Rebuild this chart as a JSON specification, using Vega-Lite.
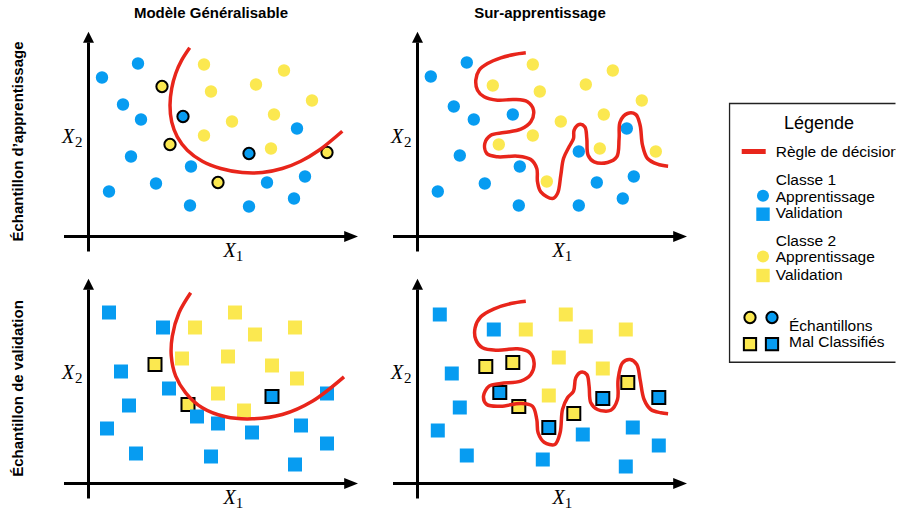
{
"$schema": "https://vega.github.io/schema/vega-lite/v6.json",
"padding": {"left": 9.5, "top": 5.5, "right": 0, "bottom": 0},
"autosize": {"type": "pad"},
"background": "white",
"config": {"view": {"stroke": null}, "font": "Liberation Sans"},
"datasets": {
"pts": [
{"mo":"g","sa":"a","k":"f"},{"mo":"o","sa":"a","k":"f"},{"mo":"g","sa":"v","k":"f"},{"mo":"o","sa":"v","k":"f"},
{"mo":"g","sa":"a","k":"p","c":1,"m":0,"x":13.5,"y":159},{"mo":"g","sa":"a","k":"p","c":1,"m":0,"x":49.5,"y":173},{"mo":"g","sa":"a","k":"p","c":1,"m":0,"x":34.5,"y":132},{"mo":"g","sa":"a","k":"p","c":1,"m":0,"x":52.5,"y":117},{"mo":"g","sa":"a","k":"p","c":1,"m":0,"x":42.5,"y":80},{"mo":"g","sa":"a","k":"p","c":1,"m":0,"x":20.5,"y":45},{"mo":"g","sa":"a","k":"p","c":1,"m":0,"x":67.5,"y":53},{"mo":"g","sa":"a","k":"p","c":1,"m":0,"x":102.5,"y":70},{"mo":"g","sa":"a","k":"p","c":1,"m":0,"x":101.5,"y":31},{"mo":"g","sa":"a","k":"p","c":1,"m":0,"x":160.5,"y":30},{"mo":"g","sa":"a","k":"p","c":1,"m":0,"x":178.5,"y":54},{"mo":"g","sa":"a","k":"p","c":1,"m":0,"x":205.5,"y":38},{"mo":"g","sa":"a","k":"p","c":1,"m":0,"x":216.5,"y":60},{"mo":"g","sa":"a","k":"p","c":1,"m":0,"x":208.5,"y":108},
{"mo":"g","sa":"a","k":"p","c":1,"m":1,"x":94.5,"y":120},{"mo":"g","sa":"a","k":"p","c":1,"m":1,"x":160.5,"y":83},
{"mo":"g","sa":"a","k":"p","c":2,"m":0,"x":115.5,"y":172},{"mo":"g","sa":"a","k":"p","c":2,"m":0,"x":195.5,"y":166},{"mo":"g","sa":"a","k":"p","c":2,"m":0,"x":122.5,"y":145},{"mo":"g","sa":"a","k":"p","c":2,"m":0,"x":167.5,"y":152},{"mo":"g","sa":"a","k":"p","c":2,"m":0,"x":223.5,"y":136},{"mo":"g","sa":"a","k":"p","c":2,"m":0,"x":185.5,"y":122},{"mo":"g","sa":"a","k":"p","c":2,"m":0,"x":143.5,"y":115},{"mo":"g","sa":"a","k":"p","c":2,"m":0,"x":115.5,"y":101},{"mo":"g","sa":"a","k":"p","c":2,"m":0,"x":182.5,"y":88},
{"mo":"g","sa":"a","k":"p","c":2,"m":1,"x":73.5,"y":150},{"mo":"g","sa":"a","k":"p","c":2,"m":1,"x":81.5,"y":92},{"mo":"g","sa":"a","k":"p","c":2,"m":1,"x":129.5,"y":54},{"mo":"g","sa":"a","k":"p","c":2,"m":1,"x":238.5,"y":84},
{"mo":"o","sa":"a","k":"p","c":1,"m":0,"x":13.3,"y":160},{"mo":"o","sa":"a","k":"p","c":1,"m":0,"x":49.3,"y":174},{"mo":"o","sa":"a","k":"p","c":1,"m":0,"x":36.3,"y":130},{"mo":"o","sa":"a","k":"p","c":1,"m":0,"x":56.3,"y":117},{"mo":"o","sa":"a","k":"p","c":1,"m":0,"x":95.3,"y":122},{"mo":"o","sa":"a","k":"p","c":1,"m":0,"x":42.3,"y":81},{"mo":"o","sa":"a","k":"p","c":1,"m":0,"x":20.3,"y":45},{"mo":"o","sa":"a","k":"p","c":1,"m":0,"x":67.3,"y":53},{"mo":"o","sa":"a","k":"p","c":1,"m":0,"x":102.3,"y":70},{"mo":"o","sa":"a","k":"p","c":1,"m":0,"x":101.3,"y":31},{"mo":"o","sa":"a","k":"p","c":1,"m":0,"x":161.3,"y":31},{"mo":"o","sa":"a","k":"p","c":1,"m":0,"x":161.3,"y":85},{"mo":"o","sa":"a","k":"p","c":1,"m":0,"x":179.3,"y":54},{"mo":"o","sa":"a","k":"p","c":1,"m":0,"x":205.3,"y":38},{"mo":"o","sa":"a","k":"p","c":1,"m":0,"x":216.3,"y":60},{"mo":"o","sa":"a","k":"p","c":1,"m":0,"x":209.3,"y":108},
{"mo":"o","sa":"a","k":"p","c":2,"m":0,"x":115.3,"y":172},{"mo":"o","sa":"a","k":"p","c":2,"m":0,"x":195.3,"y":166},{"mo":"o","sa":"a","k":"p","c":2,"m":0,"x":75.3,"y":151},{"mo":"o","sa":"a","k":"p","c":2,"m":0,"x":122.3,"y":145},{"mo":"o","sa":"a","k":"p","c":2,"m":0,"x":168.3,"y":152},{"mo":"o","sa":"a","k":"p","c":2,"m":0,"x":224.3,"y":136},{"mo":"o","sa":"a","k":"p","c":2,"m":0,"x":186.3,"y":122},{"mo":"o","sa":"a","k":"p","c":2,"m":0,"x":143.3,"y":115},{"mo":"o","sa":"a","k":"p","c":2,"m":0,"x":115.3,"y":101},{"mo":"o","sa":"a","k":"p","c":2,"m":0,"x":81.3,"y":92},{"mo":"o","sa":"a","k":"p","c":2,"m":0,"x":182.3,"y":88},{"mo":"o","sa":"a","k":"p","c":2,"m":0,"x":238.3,"y":85},{"mo":"o","sa":"a","k":"p","c":2,"m":0,"x":129.3,"y":55},
{"mo":"g","sa":"v","k":"p","c":1,"m":0,"x":20.5,"y":171},{"mo":"g","sa":"v","k":"p","c":1,"m":0,"x":74.5,"y":156},{"mo":"g","sa":"v","k":"p","c":1,"m":0,"x":32.5,"y":112},{"mo":"g","sa":"v","k":"p","c":1,"m":0,"x":80.5,"y":95},{"mo":"g","sa":"v","k":"p","c":1,"m":0,"x":40.5,"y":78},{"mo":"g","sa":"v","k":"p","c":1,"m":0,"x":18.5,"y":55},{"mo":"g","sa":"v","k":"p","c":1,"m":0,"x":47.5,"y":30},{"mo":"g","sa":"v","k":"p","c":1,"m":0,"x":108.5,"y":67},{"mo":"g","sa":"v","k":"p","c":1,"m":0,"x":129.5,"y":60},{"mo":"g","sa":"v","k":"p","c":1,"m":0,"x":163.5,"y":51},{"mo":"g","sa":"v","k":"p","c":1,"m":0,"x":212.5,"y":58},{"mo":"g","sa":"v","k":"p","c":1,"m":0,"x":238.5,"y":90},{"mo":"g","sa":"v","k":"p","c":1,"m":0,"x":238.5,"y":40},{"mo":"g","sa":"v","k":"p","c":1,"m":0,"x":122.5,"y":27},{"mo":"g","sa":"v","k":"p","c":1,"m":0,"x":206.5,"y":19},
{"mo":"g","sa":"v","k":"p","c":1,"m":1,"x":183.5,"y":87},
{"mo":"g","sa":"v","k":"p","c":2,"m":0,"x":146.5,"y":171},{"mo":"g","sa":"v","k":"p","c":2,"m":0,"x":106.5,"y":156},{"mo":"g","sa":"v","k":"p","c":2,"m":0,"x":166.5,"y":149},{"mo":"g","sa":"v","k":"p","c":2,"m":0,"x":206.5,"y":156},{"mo":"g","sa":"v","k":"p","c":2,"m":0,"x":93.5,"y":125},{"mo":"g","sa":"v","k":"p","c":2,"m":0,"x":139.5,"y":127},{"mo":"g","sa":"v","k":"p","c":2,"m":0,"x":183.5,"y":118},{"mo":"g","sa":"v","k":"p","c":2,"m":0,"x":208.5,"y":105},{"mo":"g","sa":"v","k":"p","c":2,"m":0,"x":129.5,"y":90},{"mo":"g","sa":"v","k":"p","c":2,"m":0,"x":155.5,"y":73},
{"mo":"g","sa":"v","k":"p","c":2,"m":1,"x":66.5,"y":119},{"mo":"g","sa":"v","k":"p","c":2,"m":1,"x":99.5,"y":79},
{"mo":"o","sa":"v","k":"p","c":1,"m":0,"x":22.3,"y":169},{"mo":"o","sa":"v","k":"p","c":1,"m":0,"x":76.3,"y":154},{"mo":"o","sa":"v","k":"p","c":1,"m":0,"x":34.3,"y":110},{"mo":"o","sa":"v","k":"p","c":1,"m":0,"x":42.3,"y":76},{"mo":"o","sa":"v","k":"p","c":1,"m":0,"x":20.3,"y":53},{"mo":"o","sa":"v","k":"p","c":1,"m":0,"x":49.3,"y":28},{"mo":"o","sa":"v","k":"p","c":1,"m":0,"x":165.3,"y":49},{"mo":"o","sa":"v","k":"p","c":1,"m":0,"x":215.3,"y":56},{"mo":"o","sa":"v","k":"p","c":1,"m":0,"x":241.3,"y":38},{"mo":"o","sa":"v","k":"p","c":1,"m":0,"x":125.3,"y":24},{"mo":"o","sa":"v","k":"p","c":1,"m":0,"x":208.3,"y":17},
{"mo":"o","sa":"v","k":"p","c":1,"m":1,"x":82.3,"y":91},{"mo":"o","sa":"v","k":"p","c":1,"m":1,"x":131.3,"y":56},{"mo":"o","sa":"v","k":"p","c":1,"m":1,"x":185.3,"y":85},{"mo":"o","sa":"v","k":"p","c":1,"m":1,"x":241.3,"y":86},
{"mo":"o","sa":"v","k":"p","c":2,"m":0,"x":148.3,"y":169},{"mo":"o","sa":"v","k":"p","c":2,"m":0,"x":108.3,"y":154},{"mo":"o","sa":"v","k":"p","c":2,"m":0,"x":168.3,"y":147},{"mo":"o","sa":"v","k":"p","c":2,"m":0,"x":208.3,"y":154},{"mo":"o","sa":"v","k":"p","c":2,"m":0,"x":141.3,"y":126},{"mo":"o","sa":"v","k":"p","c":2,"m":0,"x":185.3,"y":115},{"mo":"o","sa":"v","k":"p","c":2,"m":0,"x":131.3,"y":88},
{"mo":"o","sa":"v","k":"p","c":2,"m":1,"x":68.3,"y":117},{"mo":"o","sa":"v","k":"p","c":2,"m":1,"x":95.3,"y":121},{"mo":"o","sa":"v","k":"p","c":2,"m":1,"x":101.3,"y":77},{"mo":"o","sa":"v","k":"p","c":2,"m":1,"x":156.3,"y":70},{"mo":"o","sa":"v","k":"p","c":2,"m":1,"x":210.3,"y":101},
{"mo":"g","sa":"a","k":"c","i":0,"x":101.2,"y":188.7},{"mo":"g","sa":"a","k":"c","i":1,"x":93.2,"y":176.3},{"mo":"g","sa":"a","k":"c","i":2,"x":87.2,"y":163},{"mo":"g","sa":"a","k":"c","i":3,"x":83.2,"y":148},{"mo":"g","sa":"a","k":"c","i":4,"x":81.5,"y":131.3},{"mo":"g","sa":"a","k":"c","i":5,"x":83.2,"y":114.7},{"mo":"g","sa":"a","k":"c","i":6,"x":88.8,"y":99.7},{"mo":"g","sa":"a","k":"c","i":7,"x":98.8,"y":86.3},{"mo":"g","sa":"a","k":"c","i":8,"x":113.8,"y":75.3},{"mo":"g","sa":"a","k":"c","i":9,"x":132.2,"y":68},{"mo":"g","sa":"a","k":"c","i":10,"x":153.8,"y":64},{"mo":"g","sa":"a","k":"c","i":11,"x":173.8,"y":64},{"mo":"g","sa":"a","k":"c","i":12,"x":193.8,"y":68},{"mo":"g","sa":"a","k":"c","i":13,"x":212.2,"y":75.3},{"mo":"g","sa":"a","k":"c","i":14,"x":230.5,"y":86.3},{"mo":"g","sa":"a","k":"c","i":15,"x":253.8,"y":105.3},
{"mo":"g","sa":"v","k":"c","i":0,"x":102.2,"y":190.7},{"mo":"g","sa":"v","k":"c","i":1,"x":90.5,"y":170.7},{"mo":"g","sa":"v","k":"c","i":2,"x":83.8,"y":147.3},{"mo":"g","sa":"v","k":"c","i":3,"x":82.8,"y":127.3},{"mo":"g","sa":"v","k":"c","i":4,"x":87.2,"y":107.3},{"mo":"g","sa":"v","k":"c","i":5,"x":97.2,"y":90.7},{"mo":"g","sa":"v","k":"c","i":6,"x":113.8,"y":75.7},{"mo":"g","sa":"v","k":"c","i":7,"x":137.2,"y":66.7},{"mo":"g","sa":"v","k":"c","i":8,"x":163.8,"y":64.7},{"mo":"g","sa":"v","k":"c","i":9,"x":193.8,"y":69},{"mo":"g","sa":"v","k":"c","i":10,"x":223.8,"y":82.3},{"mo":"g","sa":"v","k":"c","i":11,"x":255.5,"y":106.7},
{"mo":"o","sa":"a","k":"c","i":0,"x":108.3,"y":183.7},{"mo":"o","sa":"a","k":"c","i":1,"x":96.6,"y":182},{"mo":"o","sa":"a","k":"c","i":2,"x":83.3,"y":178.7},{"mo":"o","sa":"a","k":"c","i":3,"x":70,"y":173},{"mo":"o","sa":"a","k":"c","i":4,"x":61.6,"y":166.3},{"mo":"o","sa":"a","k":"c","i":5,"x":58.3,"y":156.3},{"mo":"o","sa":"a","k":"c","i":6,"x":60,"y":146.3},{"mo":"o","sa":"a","k":"c","i":7,"x":66.6,"y":139.7},{"mo":"o","sa":"a","k":"c","i":8,"x":80,"y":136.3},{"mo":"o","sa":"a","k":"c","i":9,"x":96.6,"y":137},{"mo":"o","sa":"a","k":"c","i":10,"x":110,"y":134.7},{"mo":"o","sa":"a","k":"c","i":11,"x":116,"y":126.3},{"mo":"o","sa":"a","k":"c","i":12,"x":113.3,"y":114.7},{"mo":"o","sa":"a","k":"c","i":13,"x":103.3,"y":107.3},{"mo":"o","sa":"a","k":"c","i":14,"x":86.6,"y":104},{"mo":"o","sa":"a","k":"c","i":15,"x":73.3,"y":101.3},{"mo":"o","sa":"a","k":"c","i":16,"x":67.3,"y":93},{"mo":"o","sa":"a","k":"c","i":17,"x":69.3,"y":83},{"mo":"o","sa":"a","k":"c","i":18,"x":80,"y":79.7},{"mo":"o","sa":"a","k":"c","i":19,"x":100,"y":80.3},{"mo":"o","sa":"a","k":"c","i":20,"x":113.3,"y":77},{"mo":"o","sa":"a","k":"c","i":21,"x":119.3,"y":68},{"mo":"o","sa":"a","k":"c","i":22,"x":120,"y":54.7},{"mo":"o","sa":"a","k":"c","i":23,"x":123.3,"y":44.7},{"mo":"o","sa":"a","k":"c","i":24,"x":135,"y":38},{"mo":"o","sa":"a","k":"c","i":25,"x":140,"y":43},{"mo":"o","sa":"a","k":"c","i":26,"x":143.3,"y":61.3},{"mo":"o","sa":"a","k":"c","i":27,"x":146,"y":78},{"mo":"o","sa":"a","k":"c","i":28,"x":151.6,"y":89.7},{"mo":"o","sa":"a","k":"c","i":29,"x":156,"y":98},{"mo":"o","sa":"a","k":"c","i":30,"x":156.6,"y":106.3},{"mo":"o","sa":"a","k":"c","i":31,"x":161.6,"y":112},{"mo":"o","sa":"a","k":"c","i":32,"x":167.3,"y":109.7},{"mo":"o","sa":"a","k":"c","i":33,"x":169.3,"y":98},{"mo":"o","sa":"a","k":"c","i":34,"x":170.6,"y":81.3},{"mo":"o","sa":"a","k":"c","i":35,"x":176.6,"y":74.7},{"mo":"o","sa":"a","k":"c","i":36,"x":190,"y":74},{"mo":"o","sa":"a","k":"c","i":37,"x":199.3,"y":79.7},{"mo":"o","sa":"a","k":"c","i":38,"x":201.6,"y":98},{"mo":"o","sa":"a","k":"c","i":39,"x":202.6,"y":114.7},{"mo":"o","sa":"a","k":"c","i":40,"x":210,"y":123},{"mo":"o","sa":"a","k":"c","i":41,"x":218.3,"y":122},{"mo":"o","sa":"a","k":"c","i":42,"x":222.6,"y":111.3},{"mo":"o","sa":"a","k":"c","i":43,"x":225,"y":91.3},{"mo":"o","sa":"a","k":"c","i":44,"x":230,"y":78},{"mo":"o","sa":"a","k":"c","i":45,"x":240,"y":72.3},{"mo":"o","sa":"a","k":"c","i":46,"x":250.6,"y":70.3},
{"mo":"o","sa":"v","k":"c","i":0,"x":108.3,"y":182.3},{"mo":"o","sa":"v","k":"c","i":1,"x":93.3,"y":180},{"mo":"o","sa":"v","k":"c","i":2,"x":76.6,"y":174.7},{"mo":"o","sa":"v","k":"c","i":3,"x":63.3,"y":166.7},{"mo":"o","sa":"v","k":"c","i":4,"x":57.6,"y":155.7},{"mo":"o","sa":"v","k":"c","i":5,"x":58.3,"y":144},{"mo":"o","sa":"v","k":"c","i":6,"x":65,"y":135.7},{"mo":"o","sa":"v","k":"c","i":7,"x":80,"y":133.3},{"mo":"o","sa":"v","k":"c","i":8,"x":100,"y":134.7},{"mo":"o","sa":"v","k":"c","i":9,"x":111.6,"y":131.3},{"mo":"o","sa":"v","k":"c","i":10,"x":116.6,"y":120.7},{"mo":"o","sa":"v","k":"c","i":11,"x":113.3,"y":109},{"mo":"o","sa":"v","k":"c","i":12,"x":103.3,"y":102.3},{"mo":"o","sa":"v","k":"c","i":13,"x":83.3,"y":100},{"mo":"o","sa":"v","k":"c","i":14,"x":71.6,"y":97.3},{"mo":"o","sa":"v","k":"c","i":15,"x":66,"y":87.3},{"mo":"o","sa":"v","k":"c","i":16,"x":69.3,"y":79},{"mo":"o","sa":"v","k":"c","i":17,"x":83.3,"y":77.3},{"mo":"o","sa":"v","k":"c","i":18,"x":103.3,"y":80},{"mo":"o","sa":"v","k":"c","i":19,"x":115,"y":77.3},{"mo":"o","sa":"v","k":"c","i":20,"x":119.3,"y":64},{"mo":"o","sa":"v","k":"c","i":21,"x":120.6,"y":50.7},{"mo":"o","sa":"v","k":"c","i":22,"x":126.6,"y":41.3},{"mo":"o","sa":"v","k":"c","i":23,"x":137.3,"y":39},{"mo":"o","sa":"v","k":"c","i":24,"x":142.6,"y":50.7},{"mo":"o","sa":"v","k":"c","i":25,"x":145,"y":74},{"mo":"o","sa":"v","k":"c","i":26,"x":150,"y":85.7},{"mo":"o","sa":"v","k":"c","i":27,"x":156,"y":92.3},{"mo":"o","sa":"v","k":"c","i":28,"x":158.3,"y":105.7},{"mo":"o","sa":"v","k":"c","i":29,"x":163.3,"y":111.3},{"mo":"o","sa":"v","k":"c","i":30,"x":169.3,"y":109},{"mo":"o","sa":"v","k":"c","i":31,"x":171.6,"y":97.3},{"mo":"o","sa":"v","k":"c","i":32,"x":173.3,"y":80.7},{"mo":"o","sa":"v","k":"c","i":33,"x":180,"y":74},{"mo":"o","sa":"v","k":"c","i":34,"x":193.3,"y":73.3},{"mo":"o","sa":"v","k":"c","i":35,"x":200,"y":84},{"mo":"o","sa":"v","k":"c","i":36,"x":200.6,"y":104},{"mo":"o","sa":"v","k":"c","i":37,"x":205,"y":120.7},{"mo":"o","sa":"v","k":"c","i":38,"x":212.6,"y":124},{"mo":"o","sa":"v","k":"c","i":39,"x":219.3,"y":119},{"mo":"o","sa":"v","k":"c","i":40,"x":222.6,"y":104},{"mo":"o","sa":"v","k":"c","i":41,"x":226.6,"y":84},{"mo":"o","sa":"v","k":"c","i":42,"x":233.3,"y":74},{"mo":"o","sa":"v","k":"c","i":43,"x":243.3,"y":70.7},{"mo":"o","sa":"v","k":"c","i":44,"x":250.6,"y":69.7}
],
"leg": [
{"item":"title","label":"Légende"},{"item":"rule","label":"Règle de décision"},{"item":"c1","label":"Classe 1"},{"item":"c1a","label":"Apprentissage"},{"item":"c1v","label":"Validation"},{"item":"c2","label":"Classe 2"},{"item":"c2a","label":"Apprentissage"},{"item":"c2v","label":"Validation"},{"item":"e","label":"Échantillons"},{"item":"mc","label":"Mal Classifiés"}
]
},
"spacing": 41,
"hconcat": [
{
"data": {"name": "pts"},
"facet": {
"row": {"field": "sa", "type": "nominal", "sort": ["a", "v"], "title": null,
"header": {"labelExpr": "datum.value == 'a' ? 'Échantillon d’apprentissage' : 'Échantillon de validation'", "labelFont": "Liberation Sans", "labelFontSize": 15, "labelFontWeight": "bold", "labelColor": "black", "labelAngle": -90, "labelPadding": 29}},
"column": {"field": "mo", "type": "nominal", "sort": ["g", "o"], "title": null,
"header": {"labelExpr": "datum.value == 'g' ? '\u00a0\u00a0\u00a0\u00a0\u00a0\u00a0\u00a0\u00a0\u00a0Modèle Généralisable' : '\u00a0\u00a0\u00a0Sur-apprentissage'", "labelFont": "Liberation Sans", "labelFontSize": 15, "labelFontWeight": "bold", "labelColor": "black", "labelPadding": 10}}
},
"spacing": {"row": 13, "column": 32},
"spec": {
"width": 295, "height": 222,
"layer": [
{"transform": [{"filter": "datum.k == 'p' && datum.m == 1 && datum.sa == 'a'"}],
"mark": {"type": "circle", "size": 127, "opacity": 1, "stroke": "black", "strokeWidth": 2},
"encoding": {"x": {"field": "x", "type": "quantitative", "scale": {"domain": [-25, 270], "nice": false, "zero": false}, "axis": null},
"y": {"field": "y", "type": "quantitative", "scale": {"domain": [-16, 206], "nice": false, "zero": false}, "axis": null},
"color": {"field": "c", "type": "nominal", "scale": {"domain": [1, 2], "range": ["#079cf1", "#fbe850"]}, "legend": null}}},
{"transform": [{"filter": "datum.k == 'p' && datum.m == 1 && datum.sa == 'v'"}],
"mark": {"type": "square", "size": 169, "opacity": 1, "stroke": "black", "strokeWidth": 2},
"encoding": {"x": {"field": "x", "type": "quantitative", "scale": {"domain": [-25, 270], "nice": false, "zero": false}, "axis": null},
"y": {"field": "y", "type": "quantitative", "scale": {"domain": [-16, 206], "nice": false, "zero": false}, "axis": null},
"color": {"field": "c", "type": "nominal", "scale": {"domain": [1, 2], "range": ["#079cf1", "#fbe850"]}, "legend": null}}},
{"transform": [{"filter": "datum.k == 'p' && datum.m == 0 && datum.sa == 'a'"}],
"mark": {"type": "circle", "size": 154, "opacity": 1},
"encoding": {"x": {"field": "x", "type": "quantitative", "scale": {"domain": [-25, 270], "nice": false, "zero": false}, "axis": null},
"y": {"field": "y", "type": "quantitative", "scale": {"domain": [-16, 206], "nice": false, "zero": false}, "axis": null},
"color": {"field": "c", "type": "nominal", "scale": {"domain": [1, 2], "range": ["#079cf1", "#fbe850"]}, "legend": null}}},
{"transform": [{"filter": "datum.k == 'p' && datum.m == 0 && datum.sa == 'v'"}],
"mark": {"type": "square", "size": 196, "opacity": 1},
"encoding": {"x": {"field": "x", "type": "quantitative", "scale": {"domain": [-25, 270], "nice": false, "zero": false}, "axis": null},
"y": {"field": "y", "type": "quantitative", "scale": {"domain": [-16, 206], "nice": false, "zero": false}, "axis": null},
"color": {"field": "c", "type": "nominal", "scale": {"domain": [1, 2], "range": ["#079cf1", "#fbe850"]}, "legend": null}}},
{"transform": [{"filter": "datum.k == 'c'"}],
"mark": {"type": "line", "color": "#e8251b", "strokeWidth": 3.5, "interpolate": "catmull-rom"},
"encoding": {"x": {"field": "x", "type": "quantitative", "scale": {"domain": [-25, 270], "nice": false, "zero": false}, "axis": null},
"y": {"field": "y", "type": "quantitative", "scale": {"domain": [-16, 206], "nice": false, "zero": false}, "axis": null},
"order": {"field": "i", "type": "quantitative"}}},
{"transform": [{"filter": "datum.k == 'f'"}],
"mark": {"type": "rule", "color": "black", "strokeWidth": 3},
"encoding": {"x": {"datum": -24.5, "type": "quantitative"}, "x2": {"datum": 257}, "y": {"datum": 0, "type": "quantitative"}}},
{"transform": [{"filter": "datum.k == 'f'"}],
"mark": {"type": "rule", "color": "black", "strokeWidth": 3},
"encoding": {"x": {"datum": 0, "type": "quantitative"}, "y": {"datum": -15, "type": "quantitative"}, "y2": {"datum": 194}}},
{"transform": [{"filter": "datum.k == 'f'"}],
"mark": {"type": "point", "shape": "M-1.15,-0.92L1.15,0L-1.15,0.92Z", "size": 144, "filled": true, "color": "black", "opacity": 1},
"encoding": {"x": {"datum": 262.6, "type": "quantitative"}, "y": {"datum": 0, "type": "quantitative"}}},
{"transform": [{"filter": "datum.k == 'f'"}],
"mark": {"type": "point", "shape": "M-0.92,0.92L0,-0.92L0.92,0.92Z", "size": 144, "filled": true, "color": "black", "opacity": 1},
"encoding": {"x": {"datum": 0, "type": "quantitative"}, "y": {"datum": 199.2, "type": "quantitative"}}},
{"transform": [{"filter": "datum.k == 'f'"}],
"mark": {"type": "text", "text": "X", "font": "Liberation Serif", "fontStyle": "italic", "fontSize": 20, "align": "center", "baseline": "alphabetic", "color": "black"},
"encoding": {"x": {"datum": 141, "type": "quantitative"}, "y": {"datum": -20, "type": "quantitative"}}},
{"transform": [{"filter": "datum.k == 'f'"}],
"mark": {"type": "text", "text": "1", "font": "Liberation Serif", "fontSize": 15, "align": "center", "baseline": "alphabetic", "color": "black"},
"encoding": {"x": {"datum": 151, "type": "quantitative"}, "y": {"datum": -24, "type": "quantitative"}}},
{"transform": [{"filter": "datum.k == 'f' && datum.sa == 'a'"}],
"mark": {"type": "text", "text": "X", "font": "Liberation Serif", "fontStyle": "italic", "fontSize": 20, "align": "center", "baseline": "alphabetic", "color": "black"},
"encoding": {"x": {"datum": -20.3, "type": "quantitative"}, "y": {"datum": 93.5, "type": "quantitative"}}},
{"transform": [{"filter": "datum.k == 'f' && datum.sa == 'a'"}],
"mark": {"type": "text", "text": "2", "font": "Liberation Serif", "fontSize": 15, "align": "center", "baseline": "alphabetic", "color": "black"},
"encoding": {"x": {"datum": -9.8, "type": "quantitative"}, "y": {"datum": 89.5, "type": "quantitative"}}},
{"transform": [{"filter": "datum.k == 'f' && datum.sa == 'v'"}],
"mark": {"type": "text", "text": "X", "font": "Liberation Serif", "fontStyle": "italic", "fontSize": 20, "align": "center", "baseline": "alphabetic", "color": "black"},
"encoding": {"x": {"datum": -20.3, "type": "quantitative"}, "y": {"datum": 105, "type": "quantitative"}}},
{"transform": [{"filter": "datum.k == 'f' && datum.sa == 'v'"}],
"mark": {"type": "text", "text": "2", "font": "Liberation Serif", "fontSize": 15, "align": "center", "baseline": "alphabetic", "color": "black"},
"encoding": {"x": {"datum": -9.8, "type": "quantitative"}, "y": {"datum": 101, "type": "quantitative"}}}
]
}
},
{
"data": {"name": "leg"},
"width": 167, "height": 340,
"layer": [
{"transform": [{"filter": "datum.item == 'title'"}],
"mark": {"type": "rect", "fill": "white", "stroke": "#222222", "strokeWidth": 1.4, "clip": true},
"encoding": {"x": {"datum": 1, "type": "quantitative", "scale": {"domain": [0, 167], "nice": false, "zero": false}, "axis": null}, "x2": {"datum": 400},
"y": {"datum": 73, "type": "quantitative", "scale": {"domain": [0, 340], "reverse": true, "nice": false, "zero": false}, "axis": null}, "y2": {"datum": 331.7}}},
{"transform": [{"filter": "datum.item == 'title'"}],
"mark": {"type": "text", "fontSize": 18, "align": "center", "baseline": "alphabetic", "color": "black"},
"encoding": {"text": {"field": "label"}, "x": {"datum": 90.5, "type": "quantitative"}, "y": {"datum": 98.3, "type": "quantitative"}}},
{"transform": [{"filter": "datum.item == 'rule'"}],
"mark": {"type": "text", "fontSize": 15.5, "align": "left", "baseline": "alphabetic", "color": "black", "clip": true},
"encoding": {"text": {"field": "label"}, "x": {"datum": 47.2, "type": "quantitative"}, "y": {"datum": 126, "type": "quantitative"}}},
{"transform": [{"filter": "datum.item == 'c1'"}],
"mark": {"type": "text", "fontSize": 15.5, "align": "left", "baseline": "alphabetic", "color": "black"},
"encoding": {"text": {"field": "label"}, "x": {"datum": 47.2, "type": "quantitative"}, "y": {"datum": 154.3, "type": "quantitative"}}},
{"transform": [{"filter": "datum.item == 'c1a'"}],
"mark": {"type": "text", "fontSize": 15.5, "align": "left", "baseline": "alphabetic", "color": "black"},
"encoding": {"text": {"field": "label"}, "x": {"datum": 47.2, "type": "quantitative"}, "y": {"datum": 171, "type": "quantitative"}}},
{"transform": [{"filter": "datum.item == 'c1v'"}],
"mark": {"type": "text", "fontSize": 15.5, "align": "left", "baseline": "alphabetic", "color": "black"},
"encoding": {"text": {"field": "label"}, "x": {"datum": 47.2, "type": "quantitative"}, "y": {"datum": 187.7, "type": "quantitative"}}},
{"transform": [{"filter": "datum.item == 'c2'"}],
"mark": {"type": "text", "fontSize": 15.5, "align": "left", "baseline": "alphabetic", "color": "black"},
"encoding": {"text": {"field": "label"}, "x": {"datum": 47.2, "type": "quantitative"}, "y": {"datum": 215, "type": "quantitative"}}},
{"transform": [{"filter": "datum.item == 'c2a'"}],
"mark": {"type": "text", "fontSize": 15.5, "align": "left", "baseline": "alphabetic", "color": "black"},
"encoding": {"text": {"field": "label"}, "x": {"datum": 47.2, "type": "quantitative"}, "y": {"datum": 231.7, "type": "quantitative"}}},
{"transform": [{"filter": "datum.item == 'c2v'"}],
"mark": {"type": "text", "fontSize": 15.5, "align": "left", "baseline": "alphabetic", "color": "black"},
"encoding": {"text": {"field": "label"}, "x": {"datum": 47.2, "type": "quantitative"}, "y": {"datum": 249, "type": "quantitative"}}},
{"transform": [{"filter": "datum.item == 'e'"}],
"mark": {"type": "text", "fontSize": 15.5, "align": "left", "baseline": "alphabetic", "color": "black"},
"encoding": {"text": {"field": "label"}, "x": {"datum": 60.5, "type": "quantitative"}, "y": {"datum": 300, "type": "quantitative"}}},
{"transform": [{"filter": "datum.item == 'mc'"}],
"mark": {"type": "text", "fontSize": 15.5, "align": "left", "baseline": "alphabetic", "color": "black"},
"encoding": {"text": {"field": "label"}, "x": {"datum": 60.5, "type": "quantitative"}, "y": {"datum": 316.7, "type": "quantitative"}}},
{"transform": [{"filter": "datum.item == 'rule'"}],
"mark": {"type": "rule", "color": "#e8251b", "strokeWidth": 5},
"encoding": {"x": {"datum": 13.2, "type": "quantitative"}, "x2": {"datum": 37.2}, "y": {"datum": 121, "type": "quantitative"}}},
{"transform": [{"filter": "datum.item == 'c1a'"}],
"mark": {"type": "circle", "size": 145, "opacity": 1, "color": "#079cf1"},
"encoding": {"x": {"datum": 34.5, "type": "quantitative"}, "y": {"datum": 165.3, "type": "quantitative"}}},
{"transform": [{"filter": "datum.item == 'c1v'"}],
"mark": {"type": "square", "size": 180, "opacity": 1, "color": "#079cf1"},
"encoding": {"x": {"datum": 34.5, "type": "quantitative"}, "y": {"datum": 183.7, "type": "quantitative"}}},
{"transform": [{"filter": "datum.item == 'c2a'"}],
"mark": {"type": "circle", "size": 145, "opacity": 1, "color": "#fbe850"},
"encoding": {"x": {"datum": 34.5, "type": "quantitative"}, "y": {"datum": 226, "type": "quantitative"}}},
{"transform": [{"filter": "datum.item == 'c2v'"}],
"mark": {"type": "square", "size": 180, "opacity": 1, "color": "#fbe850"},
"encoding": {"x": {"datum": 34.5, "type": "quantitative"}, "y": {"datum": 245, "type": "quantitative"}}},
{"transform": [{"filter": "datum.item == 'e'"}],
"mark": {"type": "circle", "size": 127, "opacity": 1, "fill": "#fbe850", "stroke": "black", "strokeWidth": 2},
"encoding": {"x": {"datum": 21.5, "type": "quantitative"}, "y": {"datum": 287, "type": "quantitative"}}},
{"transform": [{"filter": "datum.item == 'e'"}],
"mark": {"type": "circle", "size": 127, "opacity": 1, "fill": "#079cf1", "stroke": "black", "strokeWidth": 2},
"encoding": {"x": {"datum": 43.5, "type": "quantitative"}, "y": {"datum": 287, "type": "quantitative"}}},
{"transform": [{"filter": "datum.item == 'mc'"}],
"mark": {"type": "square", "size": 150, "opacity": 1, "fill": "#fbe850", "stroke": "black", "strokeWidth": 2},
"encoding": {"x": {"datum": 21.5, "type": "quantitative"}, "y": {"datum": 313.7, "type": "quantitative"}}},
{"transform": [{"filter": "datum.item == 'mc'"}],
"mark": {"type": "square", "size": 150, "opacity": 1, "fill": "#079cf1", "stroke": "black", "strokeWidth": 2},
"encoding": {"x": {"datum": 43.5, "type": "quantitative"}, "y": {"datum": 313.7, "type": "quantitative"}}}
]
}
]
}
